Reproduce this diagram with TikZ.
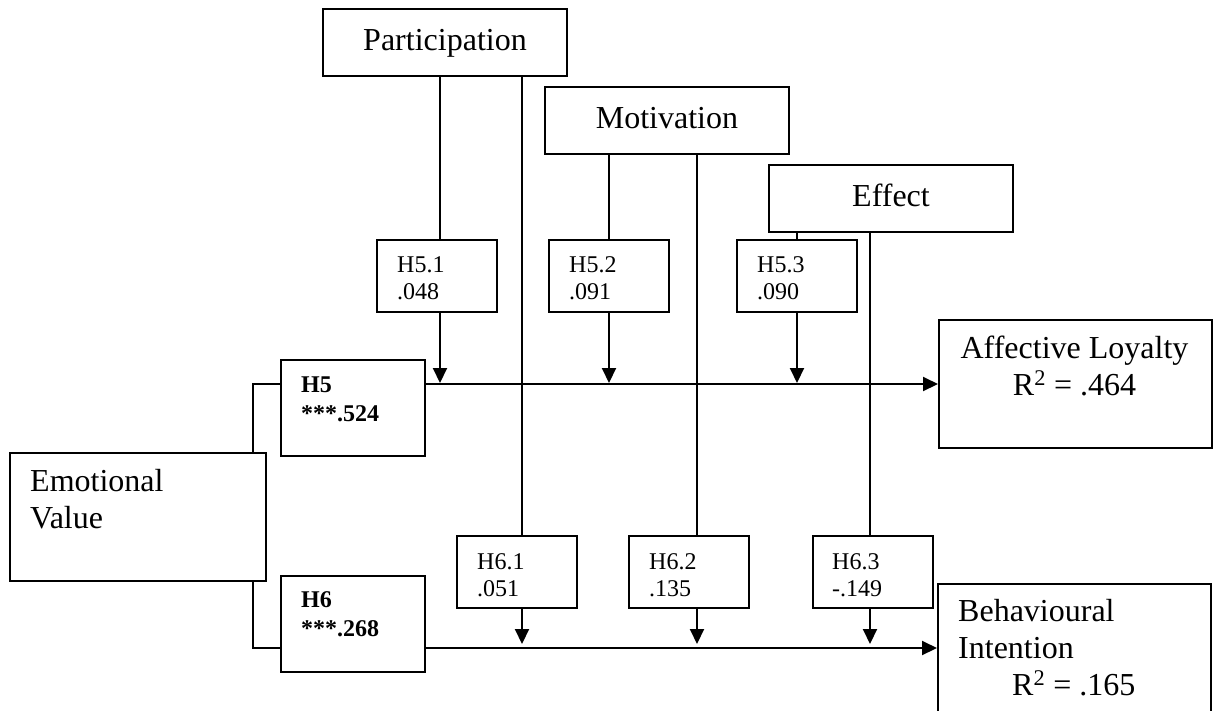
\documentclass[tikz,border=0pt]{standalone}
\usepackage{fontspec}
\setmainfont{Liberation Serif}
\usetikzlibrary{arrows.meta,calc}

\begin{document}
\begin{tikzpicture}[x=1pt,y=-1pt,
  box/.style={draw, line width=2pt, fill=white, inner sep=0pt},
  wire/.style={line width=2pt},
  arr/.style={wire, -{Triangle[length=15pt,width=14pt]}},
  bigtext/.style={font=\fontsize{32}{37}\selectfont},
  modbox/.style={box, bigtext, minimum width=244pt, minimum height=67pt,
                 text height=22pt, text depth=7pt},
  hbox/.style={box, minimum width=120pt, minimum height=72pt},
  pathbox/.style={box, minimum width=144pt, minimum height=96pt},
  varbox/.style={box, minimum height=128pt},
  % multi-line texts are placed by the baseline of their last line
  lbl/.style={font=\fontsize{24}{27}\selectfont, align=left, anchor=base west, inner sep=0pt},
  boldlbl/.style={font=\fontsize{24}{29}\selectfont\bfseries, align=left, anchor=base west, inner sep=0pt},
  bigl/.style={bigtext, align=left, anchor=base west, inner sep=0pt},
]
\path[use as bounding box] (0,0) rectangle (1218,710);
\clip (0,0) rectangle (1218,710);

% moderators
\node[modbox] (part)  at (445,42.5)  {Participation};
\node[modbox] (motiv) at (667,120.5) {Motivation};
\node[modbox] (eff)   at (891,198.5) {Effect};

% interaction boxes on the two paths
\node[hbox] (h51) at (437,276) {};
\node[hbox] (h52) at (609,276) {};
\node[hbox] (h53) at (797,276) {};
\node[hbox] (h61) at (517,572) {};
\node[hbox] (h62) at (689,572) {};
\node[hbox] (h63) at (873,572) {};

% main effects
\node[pathbox] (h5) at (353,408) {};
\node[pathbox] (h6) at (353,624) {};

% constructs
\node[varbox, minimum width=256pt] (emo) at (138,516.5) {};
\node[varbox, minimum width=273pt] (aff) at (1075.5,384) {};
\node[varbox, minimum width=273pt] (beh) at (1074.5,648) {};

% texts
\node[lbl] (h51t) at ($(h51.north west)+(21,60)$) {H5.1\\.048};
\node[lbl] (h52t) at ($(h52.north west)+(21,60)$) {H5.2\\.091};
\node[lbl] (h53t) at ($(h53.north west)+(21,60)$) {H5.3\\.090};
\node[lbl] (h61t) at ($(h61.north west)+(21,61)$) {H6.1\\.051};
\node[lbl] (h62t) at ($(h62.north west)+(21,61)$) {H6.2\\.135};
\node[lbl] (h63t) at ($(h63.north west)+(20,61)$) {H6.3\\-.149};
\node[boldlbl] (h5t) at ($(h5.north west)+(21,62)$) {H5\\***.524};
\node[boldlbl] (h6t) at ($(h6.north west)+(21,61)$) {H6\\***.268};
\node[bigl] (emot) at ($(emo.north west)+(21,77)$) {Emotional\\Value};
\node[bigtext, align=center, anchor=base, inner sep=0pt] (afft) at ($(aff.north)+(-1,76)$)
  {Affective Loyalty\\R\textsuperscript{2} = .464};
\node[bigl] (beht) at ($(beh.north west)+(21,112)$)
  {Behavioural\\Intention\\\hspace*{54pt}R\textsuperscript{2} = .165};

% x positions of the moderator lines
\coordinate (pa) at (440,0);
\coordinate (pb) at (522,0);
\coordinate (ma) at (609,0);
\coordinate (mb) at (697,0);
\coordinate (ea) at (797,0);
\coordinate (eb) at (870,0);
\coordinate (ev) at (253,0);

% main paths
\draw[wire] (emo.north -| ev) |- (h5.west |- aff.west);
\draw[wire] (emo.south -| ev) |- (h6.west |- beh.west);
\draw[arr] (h5.east |- aff.west) -- (aff.west);
\draw[arr] (h6.east |- beh.west) -- (beh.west);

% moderator lines into the interaction boxes
\draw[wire] (part.south -| pa)  -- (h51.north -| pa);
\draw[wire] (part.south -| pb)  -- (h61.north -| pb);
\draw[wire] (motiv.south -| ma) -- (h52.north -| ma);
\draw[wire] (motiv.south -| mb) -- (h62.north -| mb);
\draw[wire] (eff.south -| ea)   -- (h53.north -| ea);
\draw[wire] (eff.south -| eb)   -- (h63.north -| eb);

% interaction arrows onto the paths
\draw[arr] (h51.south -| pa) -- ([yshift=1pt]aff.west -| pa);
\draw[arr] (h52.south -| ma) -- ([yshift=1pt]aff.west -| ma);
\draw[arr] (h53.south -| ea) -- ([yshift=1pt]aff.west -| ea);
\draw[arr] (h61.south -| pb) -- ([yshift=4pt]beh.west -| pb);
\draw[arr] (h62.south -| mb) -- ([yshift=4pt]beh.west -| mb);
\draw[arr] (h63.south -| eb) -- ([yshift=4pt]beh.west -| eb);
\end{tikzpicture}
\end{document}
